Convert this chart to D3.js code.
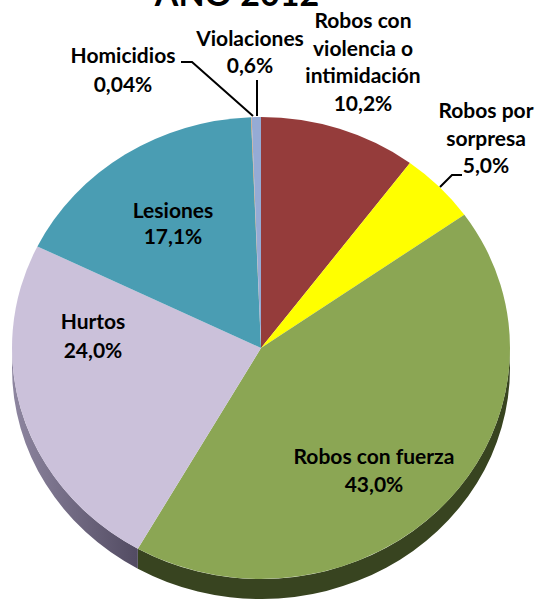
<!DOCTYPE html>
<html><head><meta charset="utf-8">
<script src="https://cdn.jsdelivr.net/npm/d3@7"></script>
<style>
html,body{margin:0;padding:0;background:#fff;}
svg{display:block;}
text{font-family:"Lato","Open Sans",sans-serif;font-weight:700;fill:#000;}
</style></head>
<body>
<svg id="chart" width="540" height="600"></svg>
<script>
const title = "AÑO 2012";
const categories = ["Robos con violencia o intimidación","Robos por sorpresa","Robos con fuerza","Hurtos","Lesiones","Homicidios","Violaciones"];
const values = [10.2, 5.0, 43.0, 24.0, 17.1, 0.04, 0.6];
const valueLabels = ["10,2%","5,0%","43,0%","24,0%","17,1%","0,04%","0,6%"];
const labelLines = [["Robos con","violencia o","intimidación"],["Robos por","sorpresa"],["Robos con fuerza"],["Hurtos"],["Lesiones"],["Homicidios"],["Violaciones"]];
const colors = ["#953c3b","#ffff00","#8ba654","#cbc1da","#4a9db3","#d9955a","#95abd5"];
const sideColors = ["#5a2222","#8a8a00","#384420","#6a6280","#2c5e6b","#7a4a20","#59688a"];

const svg = d3.select("#chart");
const cx = 261, cy = 348, rx = 249, ry = 231, depth = 20;

const pie = d3.pie().sort(null).value(d => d.v);
const data = categories.map((c,i)=>({c, v: values[i], i}));
const arcs = pie(data);

const defs = svg.append("defs");
const g = defs.append("linearGradient").attr("id","purpleSide").attr("x1","0").attr("x2","1").attr("y1","0").attr("y2","0");
g.append("stop").attr("offset","0").attr("stop-color","#8e86a0");
g.append("stop").attr("offset","1").attr("stop-color","#524b62");

function pt(a, dy){ return [cx + rx*Math.sin(a), cy - ry*Math.cos(a) + dy]; }
arcs.forEach(a => {
  const s = Math.max(a.startAngle, Math.PI/2), e = Math.min(a.endAngle, 3*Math.PI/2);
  if (e <= s) return;
  const p0 = pt(s,0), p1 = pt(e,0), q1 = pt(e,depth), q0 = pt(s,depth);
  const large = (e - s) > Math.PI ? 1 : 0;
  const d = `M${p0}A${rx},${ry} 0 ${large} 1 ${p1}L${q1}A${rx},${ry} 0 ${large} 0 ${q0}Z`;
  svg.append("path").attr("d", d)
    .attr("fill", a.data.i === 3 ? "url(#purpleSide)" : sideColors[a.data.i]);
});

const arc = d3.arc().innerRadius(0).outerRadius(rx);
svg.append("g").attr("transform", `translate(${cx},${cy}) scale(1,${ry/rx})`)
  .selectAll("path").data(arcs).join("path")
  .attr("d", arc).attr("fill", d => colors[d.data.i]);

svg.append("text").attr("x", 237).attr("y", 6).attr("text-anchor","middle")
  .style("font-size","34px").text(title);

const fs = 21;
const labelPos = [
  {x:363, y:28, lh:27.5},
  {x:486, y:118, lh:27.5},
  {x:374, y:464, lh:28},
  {x:93, y:329, lh:29},
  {x:173, y:218, lh:26},
  {x:123, y:63, lh:29},
  {x:250, y:46, lh:27}
];
arcs.forEach(a => {
  const i = a.data.i, p = labelPos[i];
  const lines = labelLines[i].concat([valueLabels[i]]);
  const t = svg.append("text").attr("text-anchor","middle").style("font-size", fs+"px");
  lines.forEach((l,k) => t.append("tspan").attr("x", p.x).attr("y", p.y + k*p.lh).text(l));
});

const leader = d3.line();
const leaders = [
  [[462,175],[452,175],[440,187]],
  [[181,62],[192,62],[253,116]],
  [[257,80],[257,116]]
];
leaders.forEach(l => svg.append("path").attr("d", leader(l)).attr("fill","none").attr("stroke","#000").attr("stroke-width",2));
</script>
</body></html>
